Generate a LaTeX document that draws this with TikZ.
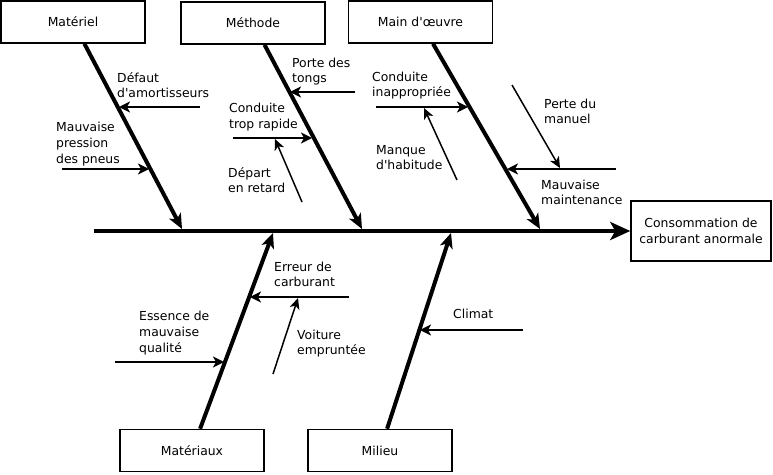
\documentclass[tikz,border=0pt]{standalone}
\usepackage{fontspec}
\setmainfont{DejaVu Sans}[Ligatures=TeXOff]
\usetikzlibrary{arrows.meta}
\begin{document}
\begin{tikzpicture}[x=1pt, y=-1pt, font=\fontsize{12.4}{15.7}\selectfont,
                    cause/.style={draw, line width=1.5pt, minimum width=144pt, minimum height=42pt},
                    effect/.style={draw, line width=1.5pt, minimum width=140pt, minimum height=60pt, align=center},
                    spine/.style={line width=4pt, -{Stealth[length=20pt,width=18pt,inset=5pt]}},
                    bone/.style={line width=4pt, -{Stealth[length=15pt,width=13pt,inset=4pt]}},
                    twig/.style={line width=2pt, -{Stealth[length=11pt,width=11pt,inset=3pt]}},
                    subtwig/.style={line width=1.5pt, -{Stealth[length=11pt,width=10pt,inset=3pt]}},
                    lbl/.style={align=left, anchor=west, inner sep=0pt}]
\useasboundingbox (0,0) rectangle (773,474);
% effect and causes
\node[effect] (cons) at (701,231) {Consommation de\\carburant anormale};
\node[cause] (mat)  at (73,22)    {Matériel};
\node[cause] (meth) at (253,23)   {Méthode};
\node[cause] (mo)   at (420.5,22) {Main d'œuvre};
\node[cause] (matx) at (192,450.5) {Matériaux};
\node[cause] (mil)  at (380,450.5) {Milieu};
% spine
\coordinate (sp) at (94,231);
\draw[spine] (sp) -- (cons);
\coordinate (s1) at (182,229);
\coordinate (s2) at (362,229);
\coordinate (s3) at (540,229);
\coordinate (s4) at (273,233);
\coordinate (s5) at (451,233);
\draw[bone] (mat) -- (s1);
\draw[bone] (meth) -- (s2);
\draw[bone] (mo) -- (s3);
\draw[bone] (matx) -- (s4);
\draw[bone] (mil) -- (s5);
% Matériel
\coordinate (amort-a) at (200,107);  \coordinate (amort-b) at (119,107);
\coordinate (pneu-a) at (62,169);    \coordinate (pneu-b) at (149,169);
\draw[twig] (amort-a) -- (amort-b);
\draw[twig] (pneu-a) -- (pneu-b);
\node[lbl] (amort) at (117,85)   {Défaut\\d'amortisseurs};
\node[lbl] (pneu)  at (56,144) {Mauvaise\\pression\\des pneus};
% Méthode
\coordinate (rapide-a) at (233,138); \coordinate (rapide-b) at (312,138);
\coordinate (retard-a) at (302,202); \coordinate (retard-b) at (275,139);
\coordinate (tongs-a) at (355,92);   \coordinate (tongs-b) at (290,92);
\draw[twig] (rapide-a) -- (rapide-b);
\draw[subtwig] (retard-a) -- (retard-b);
\draw[twig] (tongs-a) -- (tongs-b);
\node[lbl] (rapide) at (229,117) {Conduite\\trop rapide};
\node[lbl] (retard) at (228,180) {Départ\\en retard};
\node[lbl] (tongs)  at (292,71.5)    {Porte des\\tongs};
% Main d'œuvre
\coordinate (inap-a) at (376,107);   \coordinate (inap-b) at (468,107);
\coordinate (habit-a) at (457,180);  \coordinate (habit-b) at (424,108);
\coordinate (maint-a) at (616,169);  \coordinate (maint-b) at (507,169);
\coordinate (manuel-a) at (512,85);  \coordinate (manuel-b) at (560,168);
\draw[twig] (inap-a) -- (inap-b);
\draw[subtwig] (habit-a) -- (habit-b);
\draw[twig] (maint-a) -- (maint-b);
\draw[subtwig] (manuel-a) -- (manuel-b);
\node[lbl] (inap)   at (372,85.5)  {Conduite\\inappropriée};
\node[lbl] (habit)  at (376,157.5) {Manque\\d'habitude};
\node[lbl] (maint)  at (541,192.5) {Mauvaise\\maintenance};
\node[lbl] (manuel) at (544,111.5) {Perte du\\manuel};
% Matériaux
\coordinate (erreur-a) at (349,297); \coordinate (erreur-b) at (250,297);
\coordinate (voit-a) at (273,374);   \coordinate (voit-b) at (298,298);
\coordinate (ess-a) at (115,362);    \coordinate (ess-b) at (224,362);
\draw[twig] (erreur-a) -- (erreur-b);
\draw[subtwig] (voit-a) -- (voit-b);
\draw[twig] (ess-a) -- (ess-b);
\node[lbl] (erreur) at (274,274.5)   {Erreur de\\carburant};
\node[lbl] (voit)   at (297,343.5)   {Voiture\\empruntée};
\node[lbl] (ess)    at (139,333) {Essence de\\mauvaise\\qualité};
% Milieu
\coordinate (climat-a) at (523,330); \coordinate (climat-b) at (420,330);
\draw[twig] (climat-a) -- (climat-b);
\node[lbl] (climat) at (453,313.5) {Climat};
\end{tikzpicture}
\end{document}
